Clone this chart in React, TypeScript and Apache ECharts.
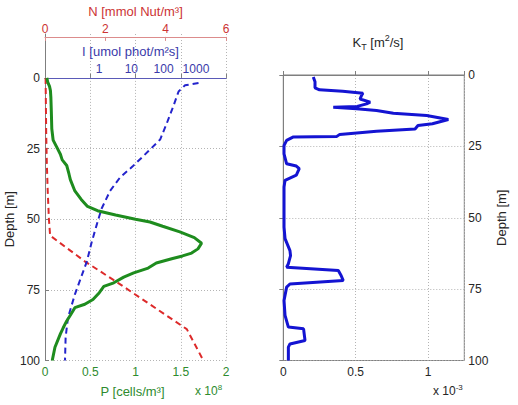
import React, { useEffect, useRef } from 'react';
import * as echarts from 'echarts';

const FONT = '"Liberation Sans", Arial, Helvetica, sans-serif';

// Phytoplankton P (units of 1e8 cells/m3) against depth (m)
const pDepth = [0, 1.5, 3, 4.5, 7, 12, 18, 22, 24.5, 27, 29, 31, 34, 36, 40, 43, 45.5, 47, 48.5, 50, 51, 52.5, 54.5, 56.5, 58.5, 60.5, 62, 63, 64, 65.5, 67.3, 69, 70.5, 72.5, 73.8, 76, 78.4, 80.1, 81.3, 84, 86, 88.5, 90.6, 95.3, 100];
const pValue = [0.02, 0.03, 0.05, 0.06, 0.065, 0.07, 0.075, 0.09, 0.13, 0.17, 0.19, 0.24, 0.265, 0.28, 0.33, 0.4, 0.47, 0.58, 0.78, 1.0, 1.16, 1.3, 1.49, 1.65, 1.73, 1.69, 1.62, 1.52, 1.4, 1.23, 1.14, 0.98, 0.87, 0.76, 0.65, 0.6, 0.53, 0.44, 0.33, 0.28, 0.24, 0.2, 0.17, 0.11, 0.08];

// Nutrient N (mmol Nut/m3) against depth (m)
const nDepth = [0, 10, 20, 30, 40, 50, 55.8, 65, 72.6, 88.9, 100];
const nValue = [0.02, 0.03, 0.04, 0.06, 0.09, 0.13, 0.17, 1.33, 2.43, 4.7, 5.25];

// Light I (umol phot/m2 s) against depth (m)
const iDepth = [1.8, 2.6, 4.8, 10, 16, 21.8, 25.9, 31.1, 35.2, 40, 46.3, 52, 58, 65, 76.6, 84.8, 91.8, 100];
const iValue = [1200, 460, 290, 200, 126, 78, 34, 11.5, 4.5, 2.2, 1.2, 0.85, 0.6, 0.42, 0.18, 0.11, 0.093, 0.089];

// Turbulent diffusivity K_T (units of 1e-3 m2/s) against depth (m)
const kDepth = [0.7, 2.4, 4.5, 5.2, 5.7, 6.4, 7.2, 8.4, 9.5, 10.1, 11, 11.3, 11.8, 12.4, 13.4, 14.2, 15.6, 17.1, 17.7, 18.9, 19.7, 20.8, 21.5, 21.7, 22.9, 24.7, 27.6, 31.1, 31.9, 32.8, 35.1, 36.9, 39.2, 43.9, 53.3, 57.3, 61.5, 63.3, 66.1, 67.3, 68.5, 70.3, 72, 73.2, 74.3, 79, 84.2, 88.3, 88.9, 93, 94.2, 95.3, 100];
const kValue = [0.207, 0.219, 0.219, 0.25, 0.41, 0.55, 0.54, 0.53, 0.6, 0.575, 0.51, 0.345, 0.506, 0.644, 0.76, 0.99, 1.14, 1.03, 0.93, 0.91, 0.644, 0.39, 0.37, 0.07, 0.023, 0.005, 0.005, 0.023, 0.09, 0.11, 0.09, 0.012, 0.005, 0.005, 0.005, 0.012, 0.046, 0.05, 0.035, 0.023, 0.38, 0.4, 0.414, 0.046, 0.023, 0.005, 0.012, 0.035, 0.14, 0.15, 0.046, 0.035, 0.035];

const zip = (xs: number[], ys: number[]) => xs.map((y, i) => [ys[i], y]);

const GREEN = '#1e8c1e';
const GREEN_TXT = '#2e8b2e';
const RED = '#dd2a2a';
const RED_TXT = '#cc3333';
const BLUE_DASH = '#2424cc';
const BLUE_TXT = '#3a3aaa';
const BLUE_K = '#1414d2';
const AXIS = '#7f7f7f';
const TXT = '#262626';
const GRIDLINE = { show: true, lineStyle: { color: '#b4b4b4', type: [1, 2], width: 1 } };

export default function App() {
  const ref = useRef<HTMLDivElement>(null);

  useEffect(() => {
    if (!ref.current) return;
    const chart = echarts.init(ref.current, null, { renderer: 'svg' });

    const leftGrid = { left: 45, top: 75, width: 181, height: 285.5 };
    const rightGrid = { left: 283.3, top: 75, width: 181, height: 285.5 };

    const inTick = (color: string) => ({ show: true, inside: true, length: 4, lineStyle: { color } });

    const option: any = {
      animation: false,
      textStyle: { fontFamily: FONT },
      title: {
        text: '{a|K}{sub|T}{a| [m}{sup|2}{a|/s]}',
        left: 373,
        top: 28,
        textAlign: 'center',
        textStyle: {
          fontWeight: 'normal',
          rich: {
            a: { fontFamily: FONT, fontSize: 13, fontWeight: 'normal', color: TXT, lineHeight: 18 },
            sub: { fontFamily: FONT, fontSize: 9, fontWeight: 'normal', color: TXT, verticalAlign: 'bottom', lineHeight: 9, padding: [6, 0, 0, 0] },
            sup: { fontFamily: FONT, fontSize: 9, fontWeight: 'normal', color: TXT, verticalAlign: 'top', lineHeight: 9, padding: [0, 0, 6, 0] },
          },
        },
      },
      grid: [
        leftGrid,
        { left: 45, top: 34, width: 181, height: 41 },
        { ...rightGrid, show: true, borderColor: AXIS, borderWidth: 1, backgroundColor: 'transparent' },
      ],
      xAxis: [
        {
          gridIndex: 0, type: 'value', position: 'bottom', min: 0, max: 2, interval: 0.5,
          axisLine: { show: true, lineStyle: { color: AXIS } },
          axisTick: inTick(AXIS),
          axisLabel: { color: GREEN_TXT, fontSize: 12, fontFamily: FONT, margin: 5 },
          splitLine: GRIDLINE,
          name: 'P [cells/m³]', nameLocation: 'middle', nameGap: 24,
          nameTextStyle: { color: GREEN_TXT, fontSize: 13, fontFamily: FONT, padding: [0, 6, 0, 0] },
        },
        {
          gridIndex: 0, type: 'log', position: 'top', min: 0.0214, max: 8500, logBase: 10,
          axisLine: { show: true, lineStyle: { color: '#5a5ab8' } },
          axisTick: { show: false },
          axisLabel: {
            color: BLUE_TXT, fontSize: 12, fontFamily: FONT, margin: 3,
            formatter: (v: number) => {
              const lg = Math.log10(v);
              const r = Math.round(lg);
              return Math.abs(lg - r) < 1e-6 && r >= 0 && r <= 3 ? String(Math.round(v)) : '';
            },
          },
          splitLine: { show: false },
          name: 'I [umol phot/m²s]', nameLocation: 'middle', nameGap: 20,
          nameTextStyle: { color: BLUE_TXT, fontSize: 13, fontFamily: FONT, padding: [0, 10, 0, 0] },
        },
        {
          gridIndex: 0, type: 'value', position: 'top', offset: 41, min: 0, max: 6, interval: 2,
          axisLine: { show: true, lineStyle: { color: '#dc8c8c' } },
          axisTick: inTick('#dc8c8c'),
          axisLabel: { color: RED_TXT, fontSize: 12, fontFamily: FONT, margin: 2 },
          splitLine: { show: false },
          name: 'N [mmol Nut/m³]', nameLocation: 'middle', nameGap: 18,
          nameTextStyle: { color: RED_TXT, fontSize: 13, fontFamily: FONT },
        },
        {
          gridIndex: 1, type: 'value', min: 0, max: 2, interval: 0.5,
          axisLine: { show: false }, axisTick: { show: false }, axisLabel: { show: false },
          splitLine: GRIDLINE,
        },
        {
          gridIndex: 2, type: 'value', position: 'bottom', min: 0, max: 1.25, interval: 0.5,
          axisLine: { show: true, lineStyle: { color: AXIS } },
          axisTick: inTick(AXIS),
          axisLabel: {
            color: TXT, fontSize: 12, fontFamily: FONT, margin: 5,
            formatter: (v: number) => (v > 1.01 ? '' : String(v)),
          },
          splitLine: GRIDLINE,
        },
      ],
      yAxis: [
        {
          gridIndex: 0, type: 'value', inverse: true, min: 0, max: 100, interval: 25,
          axisLine: { show: true, lineStyle: { color: AXIS } },
          axisTick: inTick(AXIS),
          axisLabel: { color: TXT, fontSize: 12, fontFamily: FONT, margin: 5 },
          splitLine: GRIDLINE,
          name: 'Depth [m]', nameLocation: 'middle', nameGap: 29, nameRotate: 90,
          nameTextStyle: { color: TXT, fontSize: 13, fontFamily: FONT },
        },
        {
          gridIndex: 1, type: 'value', min: 0, max: 1,
          axisLine: { show: true, lineStyle: { color: AXIS } },
          axisTick: { show: false }, axisLabel: { show: false }, splitLine: { show: false },
        },
        {
          gridIndex: 2, type: 'value', position: 'right', inverse: true, min: 0, max: 100, interval: 25,
          axisLine: { show: true, lineStyle: { color: AXIS } },
          axisTick: inTick(AXIS),
          axisLabel: { color: TXT, fontSize: 12, fontFamily: FONT, margin: 4 },
          splitLine: GRIDLINE,
          name: 'Depth [m]', nameLocation: 'middle', nameGap: 31, nameRotate: 90,
          nameTextStyle: { color: TXT, fontSize: 13, fontFamily: FONT },
        },
      ],
      series: [
        {
          name: 'N', type: 'line', xAxisIndex: 2, yAxisIndex: 0, data: zip(nDepth, nValue),
          showSymbol: false, lineStyle: { color: RED, width: 2, type: [6, 4] },
        },
        {
          name: 'I', type: 'line', xAxisIndex: 1, yAxisIndex: 0, data: zip(iDepth, iValue),
          showSymbol: false, lineStyle: { color: BLUE_DASH, width: 2, type: [6, 4] },
        },
        {
          name: 'P', type: 'line', xAxisIndex: 0, yAxisIndex: 0, data: zip(pDepth, pValue),
          showSymbol: false, lineStyle: { color: GREEN, width: 3 },
        },
        {
          name: 'K_T', type: 'line', xAxisIndex: 4, yAxisIndex: 2, data: zip(kDepth, kValue),
          showSymbol: false, lineStyle: { color: BLUE_K, width: 3 },
        },
      ],
      graphic: [
        {
          type: 'text', left: 195, top: 383,
          style: {
            text: '{a|x 10}{s|8}',
            rich: {
              a: { fontFamily: FONT, fontSize: 12, fill: GREEN_TXT, lineHeight: 16 },
              s: { fontFamily: FONT, fontSize: 8, fill: GREEN_TXT, verticalAlign: 'top', lineHeight: 8 },
            },
          },
        },
        {
          type: 'text', left: 433, top: 383,
          style: {
            text: '{a|x 10}{s|-3}',
            rich: {
              a: { fontFamily: FONT, fontSize: 12, fill: TXT, lineHeight: 16 },
              s: { fontFamily: FONT, fontSize: 8, fill: TXT, verticalAlign: 'top', lineHeight: 8 },
            },
          },
        },
      ],
    };

    chart.setOption(option);
    return () => chart.dispose();
  }, []);

  return (
    <div
      ref={ref}
      style={{ position: 'fixed', left: 0, top: 0, width: 518, height: 405, background: '#ffffff' }}
    />
  );
}
